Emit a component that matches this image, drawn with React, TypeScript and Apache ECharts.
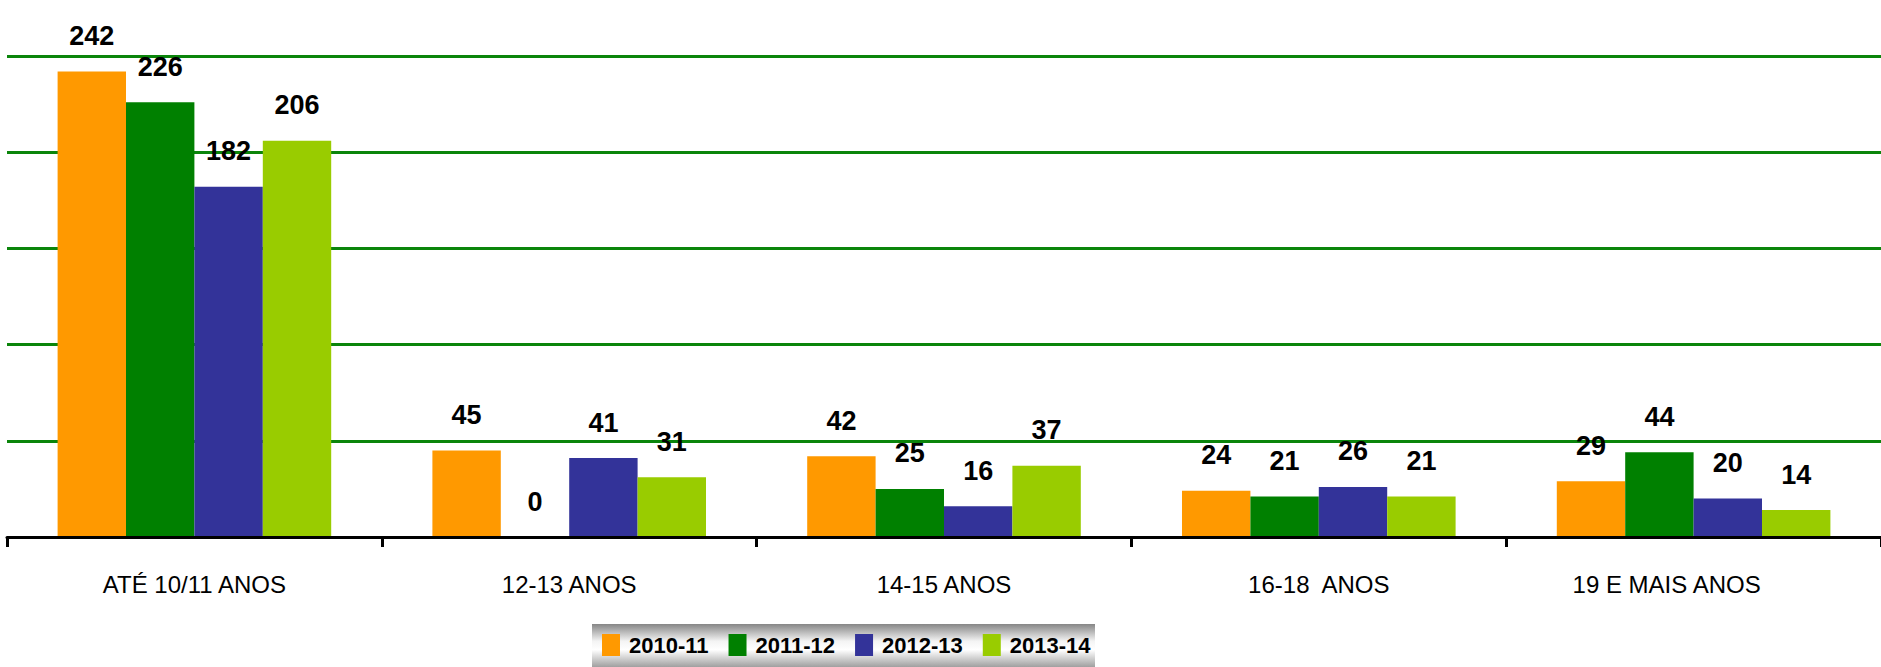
import React, { useEffect, useRef } from "react";
import * as echarts from "echarts";

const categories = ["ATÉ 10/11 ANOS", "12-13 ANOS", "14-15 ANOS", "16-18  ANOS", "19 E MAIS ANOS"];
const seriesNames = ["2010-11", "2011-12", "2012-13", "2013-14"];
const values2010 = [242, 45, 42, 24, 29];
const values2011 = [226, 0, 25, 21, 44];
const values2012 = [182, 41, 16, 26, 20];
const values2013 = [206, 31, 37, 21, 14];
const seriesColors = ["#FF9900", "#008000", "#333399", "#99CC00"];
const yMax = 250;
const yStep = 50;

export default function App() {
  const ref = useRef<HTMLDivElement>(null);
  useEffect(() => {
    if (!ref.current) return;
    const chart = echarts.init(ref.current, undefined, { renderer: "svg" });
    const allValues = [values2010, values2011, values2012, values2013];
    const font = "'Liberation Sans', Arial, sans-serif";
    const categoryData = categories.map((c, i) =>
      i === categories.length - 1
        ? { value: c, textStyle: { padding: [0, 54, 0, 0] } }
        : c
    );
    chart.setOption({
      animation: false,
      backgroundColor: "#ffffff",
      grid: { left: 7, right: -6, top: 56, bottom: 130, containLabel: false },
      graphic: [
        {
          type: "rect",
          z: 0,
          shape: { x: 592, y: 624, width: 503, height: 43 },
          style: {
            fill: new echarts.graphic.LinearGradient(0, 0, 0, 1, [
              { offset: 0, color: "#868686" },
              { offset: 0.4, color: "#f4f4f4" },
              { offset: 0.6, color: "#ffffff" },
              { offset: 1, color: "#a0a0a0" },
            ]),
          },
        },
      ],
      legend: {
        data: seriesNames,
        left: 602,
        top: 634,
        padding: 0,
        itemWidth: 18,
        itemHeight: 22,
        itemGap: 20,
        icon: "rect",
        z: 10,
        textStyle: {
          fontFamily: font,
          fontWeight: "bold",
          fontSize: 22,
          color: "#000",
          padding: [0, 0, 0, 4],
        },
      },
      xAxis: {
        type: "category",
        data: categoryData,
        axisLine: { show: true, lineStyle: { color: "#000", width: 3 } },
        axisTick: { show: true, length: 10, lineStyle: { color: "#000", width: 3 } },
        axisLabel: {
          fontFamily: font,
          fontSize: 24,
          color: "#000",
          margin: 35,
        },
        z: 5,
      },
      yAxis: {
        type: "value",
        min: 0,
        max: yMax,
        interval: yStep,
        axisLabel: { show: false },
        axisLine: { show: false },
        axisTick: { show: false },
        splitLine: { show: true, lineStyle: { color: "#0b850b", width: 3 } },
      },
      series: seriesNames.map((name, i) => ({
        name,
        type: "bar",
        data: allValues[i],
        barGap: "0%",
        barCategoryGap: "27%",
        itemStyle: { color: seriesColors[i] },
        label: {
          show: true,
          position: "top",
          distance: 22,
          fontFamily: font,
          fontWeight: "bold",
          fontSize: 27,
          color: "#000",
        },
      })),
    });
    return () => chart.dispose();
  }, []);
  return (
    <div
      ref={ref}
      style={{ position: "absolute", left: 0, top: 0, width: 1881, height: 667 }}
    />
  );
}
